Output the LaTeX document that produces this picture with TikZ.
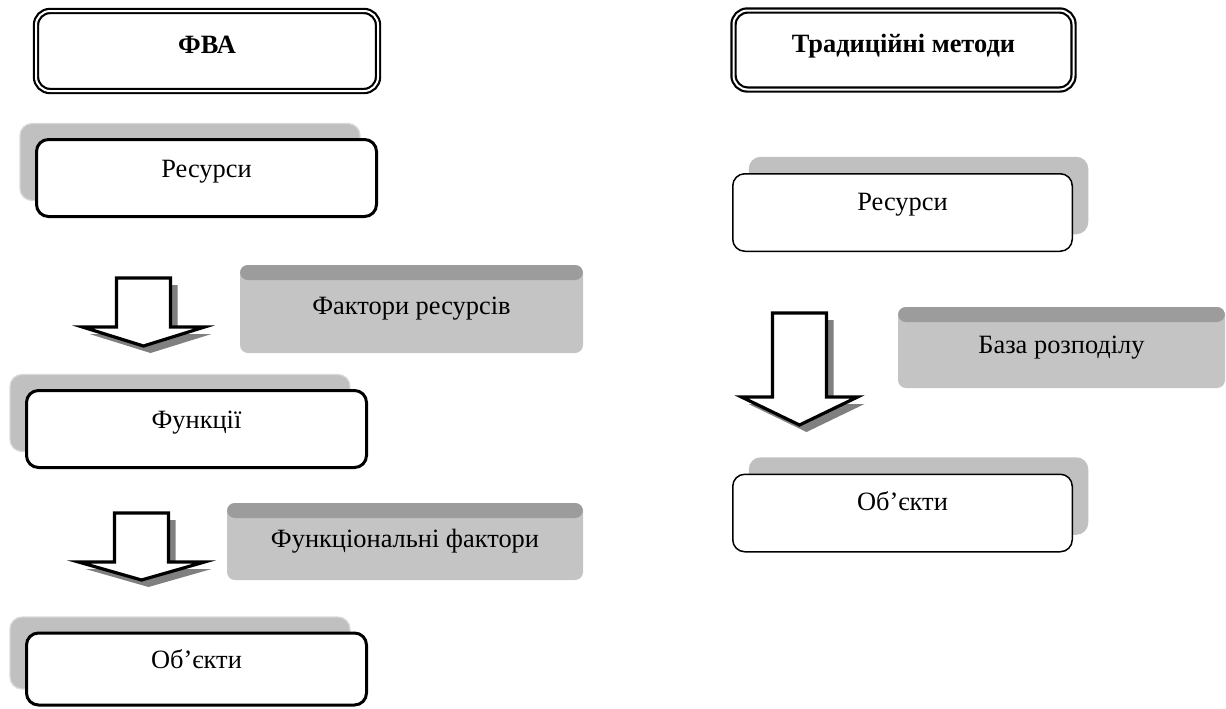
\documentclass[tikz,border=0pt]{standalone}
\usepackage{fontspec}
\setmainfont{Liberation Serif}
\usetikzlibrary{shadows}
\definecolor{shadowgray}{HTML}{C0C0C0}
\definecolor{shadowedge}{HTML}{D9D9D9}
\definecolor{boxgray}{HTML}{C4C4C4}
\definecolor{bevelgray}{HTML}{9C9C9C}
\definecolor{arrowshade}{HTML}{808080}
\tikzset{
  boxfont/.style={font=\fontsize{13.2}{15}\selectfont},
  framebox/.style={draw, double, line width=1.1pt, double distance=1pt, rounded corners=7pt,
    minimum width=171pt, minimum height=40pt, inner sep=0pt,
    font=\fontsize{13.2}{15}\selectfont\bfseries,
    text height=9pt, text depth=6.4pt},
  leftbox/.style={draw, fill=white, line width=1.5pt, rounded corners=6pt,
    minimum width=170pt, minimum height=38.5pt, inner sep=0pt, boxfont,
    text height=9pt, text depth=10pt,
    drop shadow={shadow xshift=-8.25pt, shadow yshift=8pt, fill=shadowgray, draw=shadowedge, line width=0.6pt, opacity=1}},
  rightbox/.style={draw, fill=white, line width=0.75pt, rounded corners=6pt,
    minimum width=169.75pt, minimum height=38.75pt, inner sep=0pt, boxfont,
    text height=9pt, text depth=11.4pt,
    drop shadow={shadow xshift=8pt, shadow yshift=8.5pt, fill=shadowgray, opacity=1}},
  factorbox/.style={fill=boxgray, rounded corners=4pt, inner sep=0pt, boxfont,
    path picture={\fill[bevelgray] ([yshift=1pt]path picture bounding box.north west)
      rectangle ([yshift=-7.5pt]path picture bounding box.north east);}},
  arrowline/.style={draw=black, fill=white, line width=1.6pt, line join=miter},
  % block arrow: shaft length, head length, half width of the head
  pics/blockarrow/.style n args={3}{code={
    \fill[arrowshade, shift={(7,7)}] (-27,0) -- (27,0) -- (27,#1) -- (#3,#1) -- (0,#1+#2) -- (-#3,#1) -- (-27,#1) -- cycle;
    \draw[arrowline] (-27,0) -- (27,0) -- (27,#1) -- (#3,#1) -- (0,#1+#2) -- (-#3,#1) -- (-27,#1) -- cycle;
  }}
}
\begin{document}
\begin{tikzpicture}[x=0.5pt, y=-0.5pt]
  \useasboundingbox (0,0) rectangle (1226,708);
  % Left column
  \node[framebox] (fva) at (207,51) {ФВА};
  \node[leftbox] (resL) at (206.5,178) {Ресурси};
  \pic at (143.5,278) {blockarrow={49}{19}{61}};
  \node[factorbox, minimum width=171.5pt, minimum height=44pt] (factRes) at (411.5,309) {Фактори ресурсів};
  \node[leftbox] (funL) at (196.5,429) {Функції};
  \pic at (141.5,513) {blockarrow={49}{18}{63}};
  \node[factorbox, minimum width=178pt, minimum height=38.5pt] (funFact) at (405,541.5) {Функціональні фактори};
  \node[leftbox, minimum height=36pt] (objL) at (196.5,669) {Об’єкти};
  % Right column
  \node[framebox, minimum width=170pt, minimum height=39.5pt] (trad) at (903.5,50) {Традиційні методи};
  \node[rightbox] (resR) at (902.5,212.5) {Ресурси};
  \pic at (799.5,313) {blockarrow={84}{28}{58}};
  \node[factorbox, minimum width=163.5pt, minimum height=40.5pt] (basis) at (1061.5,347.5) {База розподілу};
  \node[rightbox] (objR) at (902.5,513) {Об’єкти};
\end{tikzpicture}
\end{document}
